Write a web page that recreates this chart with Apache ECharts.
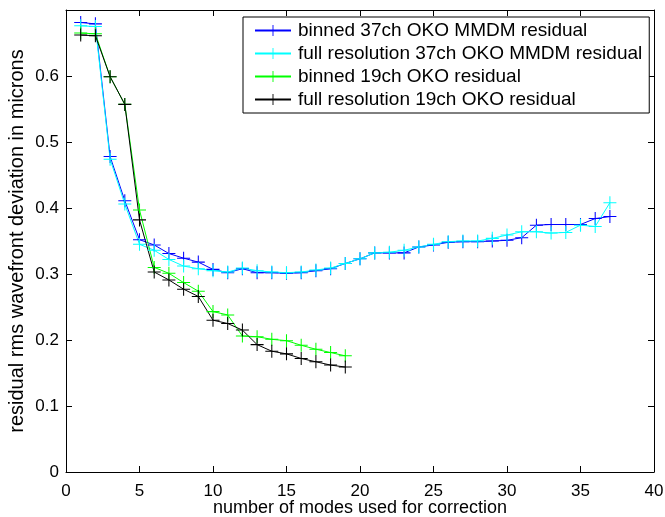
<!DOCTYPE html>
<html>
<head>
<meta charset="utf-8">
<script src="https://cdn.jsdelivr.net/npm/echarts@6/dist/echarts.min.js"></script>
<style>html,body{margin:0;padding:0;background:#fff}#c{width:665px;height:517px}</style>
</head>
<body>
<div id="c"></div>
<script>
const seriesNames = [
  'binned 37ch OKO MMDM residual',
  'full resolution 37ch OKO MMDM residual',
  'binned 19ch OKO residual',
  'full resolution 19ch OKO residual'
];
const seriesColors = ['#0000ff', '#00ffff', '#00ff00', '#000000'];
const modes37 = [1,2,3,4,5,6,7,8,9,10,11,12,13,14,15,16,17,18,19,20,21,22,23,24,25,26,27,28,29,30,31,32,33,34,35,36,37];
const modes19 = [1,2,3,4,5,6,7,8,9,10,11,12,13,14,15,16,17,18,19];
const binned37 = [0.681,0.679,0.478,0.411,0.352,0.344,0.331,0.324,0.318,0.307,0.302,0.308,0.302,0.302,0.301,0.302,0.305,0.308,0.316,0.323,0.332,0.332,0.332,0.341,0.344,0.348,0.349,0.349,0.350,0.351,0.355,0.374,0.375,0.375,0.375,0.384,0.387];
const full37 = [0.676,0.675,0.474,0.406,0.345,0.336,0.322,0.312,0.308,0.305,0.303,0.309,0.305,0.303,0.302,0.303,0.306,0.309,0.316,0.323,0.332,0.333,0.336,0.341,0.345,0.349,0.350,0.350,0.354,0.359,0.364,0.364,0.362,0.363,0.374,0.372,0.408];
const binned19 = [0.665,0.664,0.599,0.557,0.397,0.310,0.301,0.287,0.274,0.243,0.238,0.206,0.205,0.201,0.199,0.192,0.186,0.181,0.176];
const full19 = [0.662,0.661,0.599,0.557,0.382,0.303,0.291,0.277,0.266,0.230,0.225,0.215,0.193,0.183,0.179,0.172,0.167,0.162,0.159];
const xTicks = [0,5,10,15,20,25,30,35,40];
const yTicks = [0,0.1,0.2,0.3,0.4,0.5,0.6,0.7];

const FONT = '"Liberation Sans", Arial, sans-serif';
const plus = 'path://M4.6,0H5.4V4.6H10V5.4H5.4V10H4.6V5.4H0V4.6H4.6Z';
const zip = (xs, ys) => xs.map((x, i) => [x, ys[i]]);
const dataSets = [zip(modes37, binned37), zip(modes37, full37), zip(modes19, binned19), zip(modes19, full19)];

const chart = echarts.init(document.getElementById('c'), null, {renderer: 'canvas'});
const axisCommon = {
  type: 'value',
  axisLine: {show: true, onZero: false, lineStyle: {color: '#000', width: 1}},
  axisTick: {show: true, inside: true, length: 6, lineStyle: {color: '#000'}},
  splitLine: {show: false},
};
chart.setOption({
  animation: false,
  backgroundColor: '#fff',
  grid: {left: 66, right: 11, top: 10, bottom: 45, containLabel: false, outerBoundsMode: 'none'},
  xAxis: [
    Object.assign({}, axisCommon, {
      min: xTicks[0], max: xTicks[xTicks.length - 1], interval: 5, position: 'bottom',
      axisLabel: {color: '#000', fontSize: 17, fontFamily: FONT, margin: 11},
      name: 'number of modes used for correction', nameLocation: 'middle', nameGap: 27,
      nameMoveOverlap: false,
      nameTextStyle: {color: '#000', fontSize: 18, fontFamily: FONT}
    }),
    Object.assign({}, axisCommon, {
      min: xTicks[0], max: xTicks[xTicks.length - 1], interval: 5, position: 'top',
      axisLabel: {show: false}
    })
  ],
  yAxis: [
    Object.assign({}, axisCommon, {
      min: yTicks[0], max: yTicks[yTicks.length - 1], interval: 0.1, position: 'left',
      axisLabel: {color: '#000', fontSize: 17, fontFamily: FONT, margin: 7, showMaxLabel: false,
        formatter: v => String(Math.round(v * 10) / 10)},
      name: 'residual rms wavefront deviation in microns', nameLocation: 'middle', nameGap: 39,
      nameMoveOverlap: false,
      nameTextStyle: {color: '#000', fontSize: 20, fontFamily: FONT}
    }),
    Object.assign({}, axisCommon, {
      min: yTicks[0], max: yTicks[yTicks.length - 1], interval: 0.1, position: 'right',
      axisLabel: {show: false}
    })
  ],
  legend: {
    show: true, orient: 'vertical', left: 243, top: 17,
    backgroundColor: '#fff', borderColor: '#000', borderWidth: 1,
    padding: [4, 7, 4, 11], itemGap: 4, itemWidth: 36, itemHeight: 14,
    textStyle: {color: '#000', fontSize: 19, fontFamily: FONT, padding: [0,0,0,2]},
    data: seriesNames.map((n) => ({name: n}))
  },
  series: seriesNames.map((n, i) => ({
    name: n, type: 'line', data: dataSets[i],
    xAxisIndex: 0, yAxisIndex: 0,
    symbol: plus, symbolSize: 13, showAllSymbol: true,
    lineStyle: {color: seriesColors[i], width: 1},
    itemStyle: {color: seriesColors[i]},
    emphasis: {disabled: true}
  }))
});
</script>
</body>
</html>
